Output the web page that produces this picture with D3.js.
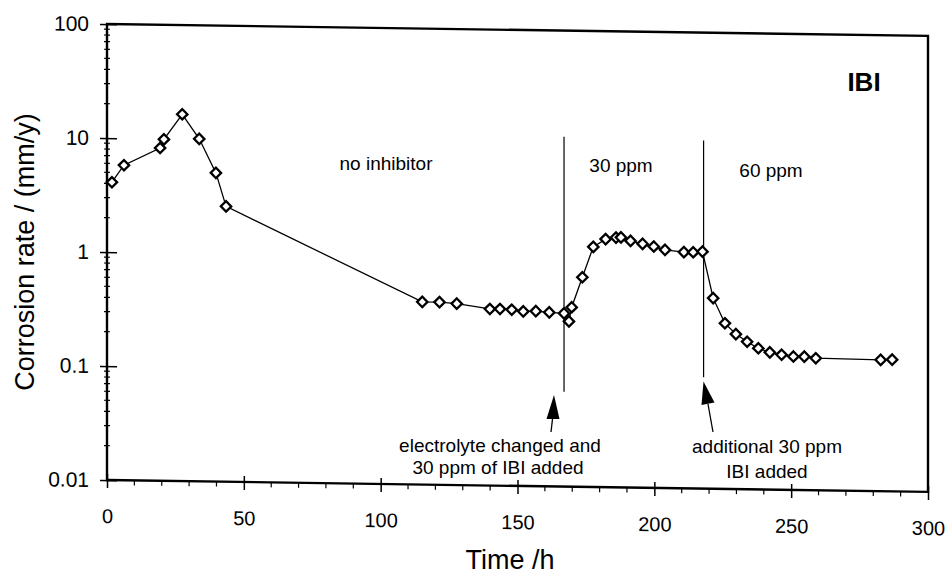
<!DOCTYPE html>
<html>
<head>
<meta charset="utf-8">
<script src="https://cdn.jsdelivr.net/npm/d3@7"></script>
<style>
  body { margin: 0; background: #fff; }
  svg { display: block; font-family: "Liberation Sans", Arial, Helvetica, sans-serif; }
</style>
</head>
<body>
<svg id="chart" width="949" height="579"></svg>
<script>
// measured corrosion rate vs time (IBI inhibitor run)
const times = [
  1.8, 6.2, 19.4, 20.8, 27.5, 33.7, 39.8, 43.5,
  115.2, 121.5, 127.8, 139.9, 143.6, 147.9, 152.1, 156.7, 161.6, 167.0, 168.8, 169.8,
  173.7, 177.7, 182.2, 186.0, 187.8, 191.3, 195.7, 199.8, 203.9, 210.8, 214.2, 217.6,
  221.5, 225.8, 229.8, 233.9, 238.0, 242.2, 246.5, 250.8, 254.8, 259.0, 282.7, 286.9
];
const rates = [
  4.1, 5.8, 8.3, 9.9, 16.5, 10.1, 5.1, 2.6,
  0.40, 0.40, 0.39, 0.354, 0.355, 0.351, 0.34, 0.343, 0.336, 0.331, 0.282, 0.375,
  0.69, 1.28, 1.50, 1.55, 1.56, 1.46, 1.38, 1.31, 1.23, 1.18, 1.18, 1.20,
  0.47, 0.284, 0.229, 0.197, 0.173, 0.160, 0.153, 0.148, 0.148, 0.144, 0.142, 0.143
];

const xTicks = [0, 50, 100, 150, 200, 250, 300];
const yTicks = [0.01, 0.1, 1, 10, 100];

// inhibitor dosing events (vertical marker lines)
const eventTimes = [167, 218];
const eventTops = [11.7, 11.3];
const eventBottoms = [0.068, 0.095];

const svg = d3.select('#chart');
const margin = { left: 107, top: 24 };
const width = 821;
const height = 456;
// the scanned original is slightly sheared
const skew = 0.83;

const x = d3.scaleLinear().domain([0, 300]).range([0, width]);
const y = d3.scaleLog().domain([0.01, 100]).range([height, 0]);

const plot = svg.append('g')
  .attr('transform', `translate(${margin.left},${margin.top}) skewY(${skew})`);

// frame
plot.append('rect')
  .attr('width', width)
  .attr('height', height)
  .attr('fill', 'none')
  .attr('stroke', '#000')
  .attr('stroke-width', 2.4);

// x axis
const xAxis = plot.append('g')
  .attr('transform', `translate(0,${height})`)
  .call(d3.axisBottom(x).tickValues(xTicks).tickFormat(d3.format('d'))
    .tickSize(8).tickPadding(21).tickSizeOuter(0));
xAxis.select('.domain').remove();
xAxis.attr('font-family', null).attr('font-size', 20);
xAxis.selectAll('.tick line').attr('y1', -6).attr('stroke', '#000').attr('stroke-width', 1.5);
xAxis.selectAll('.tick text').attr('fill', '#000');

plot.append('g')
  .selectAll('line')
  .data(d3.range(10, 300, 10).filter(d => d % 50 !== 0))
  .join('line')
  .attr('x1', d => x(d)).attr('x2', d => x(d))
  .attr('y1', height).attr('y2', height + 5)
  .attr('stroke', '#000').attr('stroke-width', 1.2);

// y axis (log)
const yAxis = plot.append('g')
  .call(d3.axisLeft(y).tickValues(yTicks).tickFormat(d => String(d))
    .tickSize(7).tickPadding(11).tickSizeOuter(0));
yAxis.select('.domain').remove();
yAxis.attr('font-family', null).attr('font-size', 21);
yAxis.selectAll('.tick line').attr('x1', 10).attr('stroke', '#000').attr('stroke-width', 1.5);
yAxis.selectAll('.tick text').attr('fill', '#000');

const minorY = [];
[0.01, 0.1, 1, 10].forEach(dec => d3.range(2, 10).forEach(m => minorY.push(dec * m)));
plot.append('g')
  .selectAll('line')
  .data(minorY)
  .join('line')
  .attr('x1', -3).attr('x2', 3)
  .attr('y1', d => y(d)).attr('y2', d => y(d))
  .attr('stroke', '#000').attr('stroke-width', 1.2);

// event lines
plot.append('g')
  .selectAll('line')
  .data(eventTimes)
  .join('line')
  .attr('x1', d => x(d)).attr('x2', d => x(d))
  .attr('y1', (d, i) => y(eventTops[i]))
  .attr('y2', (d, i) => y(eventBottoms[i]))
  .attr('stroke', '#000').attr('stroke-width', 1.2);

// data line + diamond markers
const points = times.map((t, i) => ({ t, r: rates[i] }));

plot.append('path')
  .datum(points)
  .attr('fill', 'none')
  .attr('stroke', '#000')
  .attr('stroke-width', 1.3)
  .attr('d', d3.line().x(d => x(d.t)).y(d => y(d.r)));

plot.append('g')
  .selectAll('path')
  .data(points)
  .join('path')
  .attr('d', d3.symbol().type(d3.symbolSquare).size(54))
  .attr('transform', d => `translate(${x(d.t)},${y(d.r)}) rotate(45)`)
  .attr('fill', '#fff')
  .attr('stroke', '#000')
  .attr('stroke-width', 2.3);

// axis titles
svg.append('text')
  .attr('transform', `translate(34,${margin.top + 228}) rotate(-90)`)
  .attr('text-anchor', 'middle')
  .attr('font-size', 27)
  .text('Corrosion rate / (mm/y)');

svg.append('text')
  .attr('x', 510).attr('y', 569)
  .attr('text-anchor', 'middle')
  .attr('font-size', 27)
  .text('Time /h');

// annotations
svg.append('text')
  .attr('x', 864).attr('y', 91)
  .attr('text-anchor', 'middle')
  .attr('font-size', 26)
  .attr('font-weight', 'bold')
  .text('IBI');

const notes = [
  { text: 'no inhibitor', x: 386, y: 170 },
  { text: '30 ppm', x: 621, y: 172 },
  { text: '60 ppm', x: 771, y: 177 },
  { text: 'electrolyte changed and', x: 500, y: 452 },
  { text: '30 ppm of IBI added', x: 498, y: 474 },
  { text: 'additional 30 ppm', x: 767, y: 453 },
  { text: 'IBI added', x: 767, y: 478 }
];
svg.append('g')
  .selectAll('text')
  .data(notes)
  .join('text')
  .attr('x', d => d.x).attr('y', d => d.y)
  .attr('text-anchor', 'middle')
  .attr('font-size', 19)
  .text(d => d.text);

// arrows pointing at the event lines
const arrows = [
  { tip: [554, 395], base: [[546.5, 419], [559.5, 419]], stem: [[552.5, 419], [551, 432]] },
  { tip: [703.5, 381.5], base: [[701.5, 405], [714.5, 402.5]], stem: [[708, 404], [713, 432]] }
];
arrows.forEach(a => {
  svg.append('path')
    .attr('d', `M${a.tip}L${a.base[0]}L${a.base[1]}Z`)
    .attr('fill', '#000');
  svg.append('line')
    .attr('x1', a.stem[0][0]).attr('y1', a.stem[0][1])
    .attr('x2', a.stem[1][0]).attr('y2', a.stem[1][1])
    .attr('stroke', '#000').attr('stroke-width', 1.3);
});
</script>
</body>
</html>
